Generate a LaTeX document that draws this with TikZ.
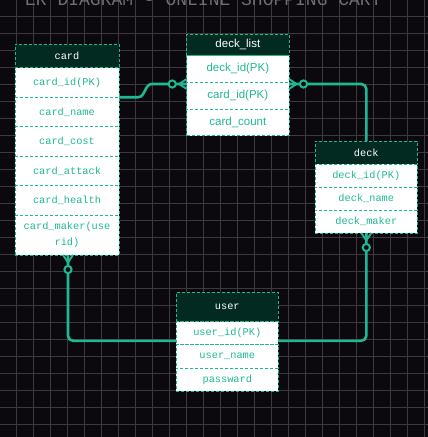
\documentclass[tikz,border=0pt]{standalone}
\usepackage{fontspec}
\setmainfont{Liberation Sans}
\newfontfamily\monof{Liberation Mono}
\usetikzlibrary{calc}
\definecolor{bgc}{RGB}{12,9,14}
\definecolor{gridc}{RGB}{60,58,62}
\definecolor{tealc}{RGB}{32,184,148}
\definecolor{hdrc}{RGB}{3,42,33}
\definecolor{titlec}{RGB}{110,110,110}
\tikzset{
 tbl/.style={draw=tealc, dash pattern=on 3pt off 2pt, line width=0.8pt, inner sep=0pt, outer sep=0pt, anchor=center, align=center},
 hdr/.style={tbl, fill=hdrc, text=white},
 rowc/.style={tbl, fill=white, text=tealc},
 mono/.style={font=\monof\fontsize{10.3}{15.7}\selectfont},
 sans/.style={font=\fontsize{11.5}{14}\selectfont},
 conn/.style={draw=tealc, line width=2.6pt, solid},
 ring/.style={draw=tealc, line width=2pt, fill=bgc, solid},
}
\newcommand{\zmany}[2]{%
 \begin{scope}[shift={(#1)},rotate=#2]
  \draw[conn, line width=1.9pt] (7.5,0) -- (0,5) (7.5,0) -- (0,-5) (7.5,0) -- (0,0);
  \draw[ring] (14.5,0) circle (3.6);
 \end{scope}}
\begin{document}
\begin{tikzpicture}[x=1pt,y=-1pt]
\fill[bgc] (0,0) rectangle (428,437);
\useasboundingbox (0,0) rectangle (428,437);
\clip (0,0) rectangle (428,437);
\foreach \i in {0,...,24} {
  \draw[gridc, line width=0.9pt] ({16+17*\i},0) -- ({16+17*\i},437);
  \draw[gridc, line width=0.9pt] (0,{16+17*\i}) -- (428,{16+17*\i});
}
\node[anchor=base west, text=titlec, font=\monof\fontsize{18}{20}\selectfont, inner sep=0pt] (title) at (25,5) {ER DIAGRAM - ONLINE SHOPPING CART};

% card
\node[hdr, mono, minimum width=104, minimum height=23.7] (card) at (67,55.85) {card};
\node[rowc, mono, minimum width=104, minimum height=29.5] (c1) at (67,82.45) {card\_id(PK)};
\node[rowc, mono, minimum width=104, minimum height=29.5] (c2) at (67,111.95) {card\_name};
\node[rowc, mono, minimum width=104, minimum height=29.5] (c3) at (67,141.45) {card\_cost};
\node[rowc, mono, minimum width=104, minimum height=29.5] (c4) at (67,170.95) {card\_attack};
\node[rowc, mono, minimum width=104, minimum height=29.5] (c5) at (67,200.45) {card\_health};
\node[rowc, mono, minimum width=104, minimum height=39.8] (c6) at (67,235.1) {card\_maker(use\\rid)};

% deck_list
\node[hdr, sans, minimum width=102.3, minimum height=21.7] (dl) at (237.85,44.85) {deck\_list};
\node[rowc, sans, minimum width=102.3, minimum height=26.6] (dl1) at (237.85,69) {deck\_id(PK)};
\node[rowc, sans, minimum width=102.3, minimum height=26.6] (dl2) at (237.85,95.6) {card\_id(PK)};
\node[rowc, sans, minimum width=102.3, minimum height=26.6] (dl3) at (237.85,122.2) {card\_count};

% deck
\node[hdr, mono, minimum width=102, minimum height=23] (deck) at (366.3,152.5) {deck};
\node[rowc, mono, minimum width=102, minimum height=23] (d1) at (366.3,175.5) {deck\_id(PK)};
\node[rowc, mono, minimum width=102, minimum height=23] (d2) at (366.3,198.5) {deck\_name};
\node[rowc, mono, minimum width=102, minimum height=23] (d3) at (366.3,221.5) {deck\_maker};

% user
\node[hdr, mono, minimum width=102, minimum height=29.4] (user) at (227.3,307) {user};
\node[rowc, mono, minimum width=102, minimum height=23.1] (u1) at (227.3,333.25) {user\_id(PK)};
\node[rowc, mono, minimum width=102, minimum height=23.1] (u2) at (227.3,356.35) {user\_name};
\node[rowc, mono, minimum width=102, minimum height=23.1] (u3) at (227.3,379.45) {passward};

% connector end points
\coordinate (e1) at ([yshift=-1.7pt]dl1.south west);
\coordinate (e2) at ([yshift=-1.7pt]dl1.south east);
\coordinate (e4) at ([yshift=4pt]u1.south east);
\coordinate (e5) at ([yshift=4pt]u1.south west);
\coordinate (cb) at ([xshift=1pt]c6.south);

\draw[conn] (c1.south east) -- ++(19,0) to[out=0,in=180] ($(e1)+(-34.7,0)$) -- (e1);
\draw[conn, rounded corners=5pt] (e2) -| (deck.north);
\draw[conn, rounded corners=5pt] (d3.south) |- (e4);
\draw[conn, rounded corners=5pt] (cb) |- (e5);

\zmany{e1}{180}
\zmany{e2}{0}
\zmany{d3.south}{-90}
\zmany{cb}{-90}
\end{tikzpicture}
\end{document}
